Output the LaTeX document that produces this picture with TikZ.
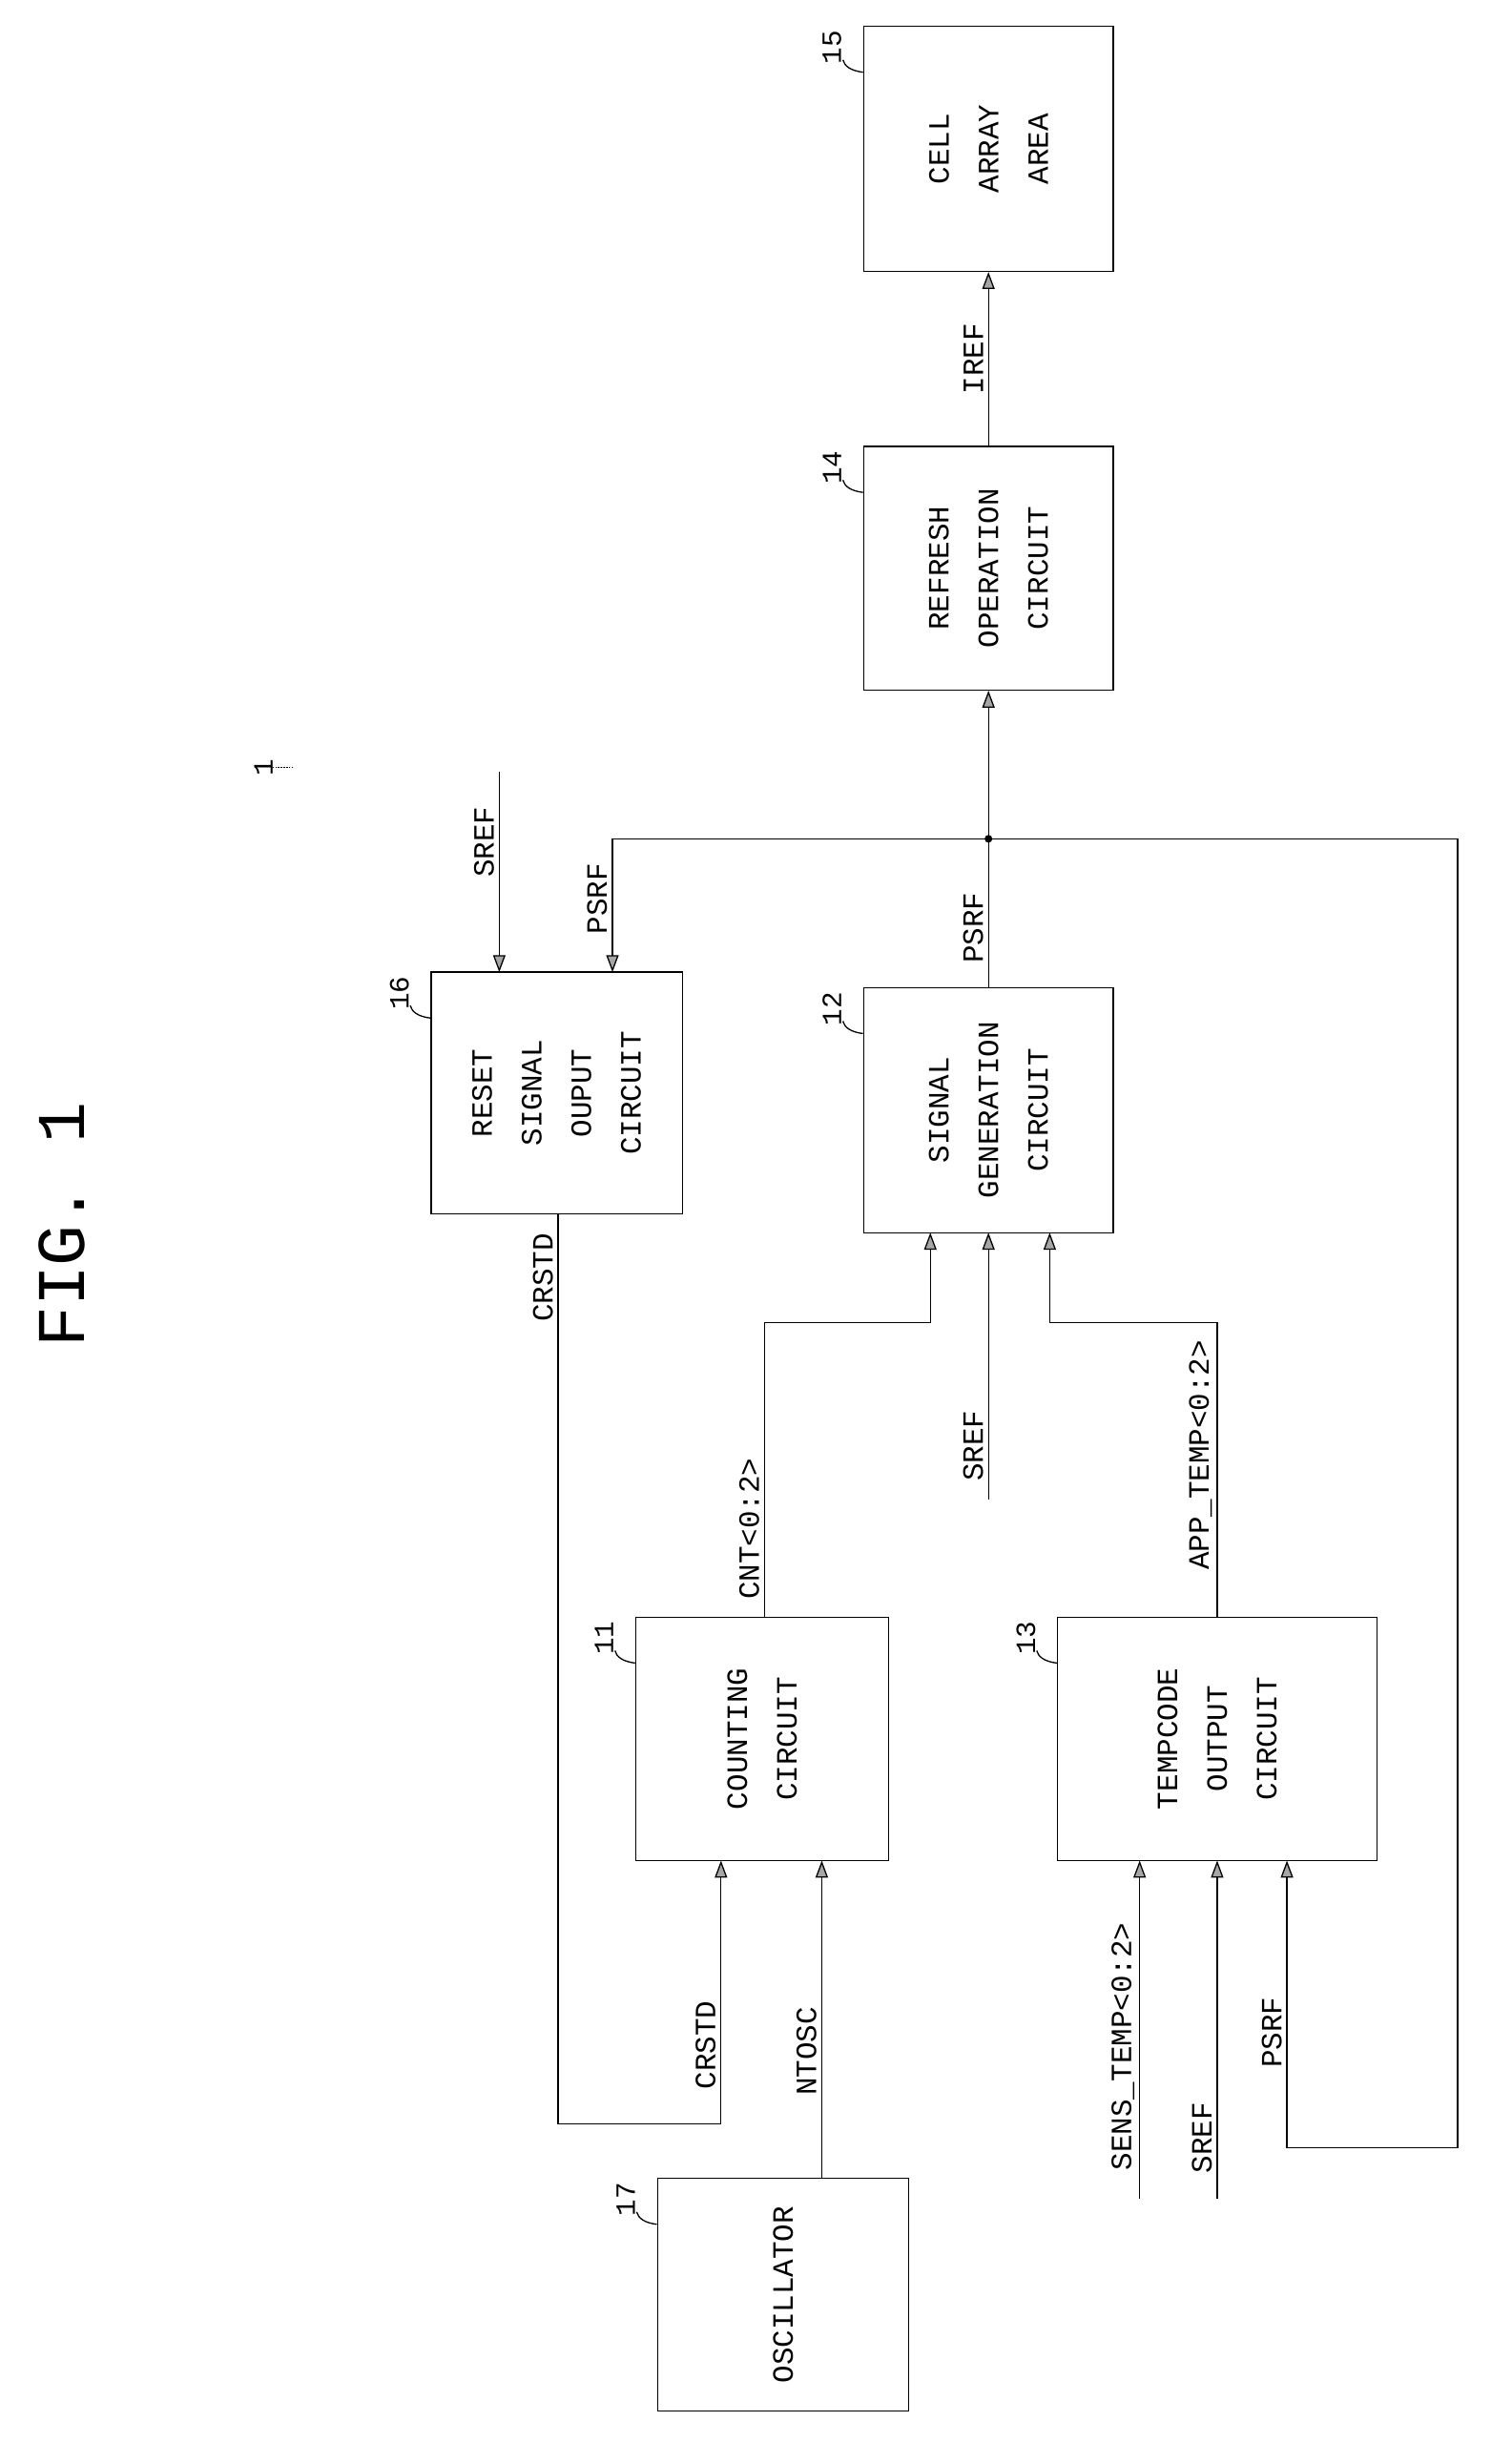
\documentclass[tikz,border=0pt]{standalone}
\usepackage{fontspec}
\setmainfont{Liberation Mono}
\usetikzlibrary{arrows.meta,calc}
\begin{document}
\begin{tikzpicture}[x=1pt,y=-1pt,
  box/.style={draw,line width=0.8pt,minimum width=161pt,minimum height=158pt,inner sep=0pt},
  txt/.style={rotate=90,align=center,font=\fontsize{19}{32}\selectfont},
  lab/.style={rotate=90,anchor=south,font=\fontsize{19}{22}\selectfont,inner sep=3pt},
  num/.style={rotate=90,font=\fontsize{18}{20}\selectfont,inner sep=1pt},
  ln/.style={line width=0.8pt},
  arr/.style={line width=0.8pt,-{Triangle[length=11pt,width=8pt,fill=gray!70]}}]
\useasboundingbox (0,0) rectangle (975,1575);
\node[box,minimum height=158pt] (n15) at (637.5,96) {};
\node[txt] (t15) at (n15) {CELL\\ARRAY\\AREA};
\node[box,minimum height=157pt] (n14) at (637.5,366.5) {};
\node[txt] (t14) at (n14) {REFRESH\\OPERATION\\CIRCUIT};
\node[box] (n12) at (637.5,716) {};
\node[txt] (t12) at (n12) {SIGNAL\\GENERATION\\CIRCUIT};
\node[box,minimum width=162pt,minimum height=156pt] (n16) at (359,705) {};
\node[txt] (t16) at (n16) {RESET\\SIGNAL\\OUPUT\\CIRCUIT};
\node[box,minimum width=163pt,minimum height=157pt] (n11) at (491.5,1121.5) {};
\node[txt] (t11) at (n11) {COUNTING\\CIRCUIT};
\node[box,minimum width=206pt,minimum height=157pt] (n13) at (785,1121.5) {};
\node[txt] (t13) at (n13) {TEMPCODE\\OUTPUT\\CIRCUIT};
\node[box,minimum width=162pt,minimum height=150pt] (n17) at (505,1480) {};
\node[txt] (t17) at (n17) {OSCILLATOR};
% reference numerals
\foreach \n/\nm in {n15/15,n14/14,n12/12,n16/16,n11/11,n13/13,n17/17}{
  \node[num] (r\nm) at ($(\n.north west)+(-20,14)$) {\nm};
  \draw[ln] ($(\n.north west)+(0,30)$) .. controls ($(\n.north west)+(-8,29)$) and ($(\n.north west)+(-12,26)$) .. ($(\n.north west)+(-13,22)$);
}
\node[font=\fontsize{44}{44}\selectfont,rotate=90] (fig) at (40,790) {FIG. 1};
\node[num] (one) at (170,495) {1};
\draw[ln,densely dotted] ($(one.south)+(12,0)$) -- ($(one.north)+(12,0)$);
% connectors
\draw[arr] (n14.north) -- node[lab,pos=0.5] {IREF} (n15.south);
\coordinate (j) at (637.5,541);
\draw[arr] (n12.north) -- node[lab,pos=0.4] {PSRF} (j) -- (n14.south);
\fill (j) circle (2.5pt);
\draw[arr] (j) -- (395,541) -- node[lab,pos=0.45] {PSRF} (395,627);
\coordinate (s16) at (322,498);
\draw[arr] (s16) -- node[lab,pos=0.35] {SREF} (322,627);
\draw[arr] (j) -- (940,541) -- (940,1385) -- (830,1385) -- node[lab,pos=0.4] {PSRF} (830,1200);
\draw[arr] (360,783) -- node[lab,pos=0.07] {CRSTD} (360,1370) -- (465,1370) -- node[lab,pos=0.3] {CRSTD} (465,1200);
\draw[arr] (530,1405) -- node[lab,pos=0.4] {NTOSC} (530,1200);
\draw[arr] (493,1043) -- node[lab,pos=0.3] {CNT<0:2>} (493,853) -- (600,853) -- (600,795);
\coordinate (s12) at (637.5,967);
\draw[arr] (s12) -- node[lab,pos=0.2] {SREF} (637.5,795);
\draw[arr] (785,1043) -- node[lab,pos=0.55] {APP\_TEMP<0:2>} (785,853) -- (677,853) -- (677,795);
\coordinate (s13a) at (735,1418);
\coordinate (s13b) at (785,1418);
\draw[arr] (s13a) -- node[lab,pos=0.45] {SENS\_TEMP<0:2>} (735,1200);
\draw[arr] (s13b) -- node[lab,pos=0.18] {SREF} (785,1200);
\end{tikzpicture}
\end{document}
